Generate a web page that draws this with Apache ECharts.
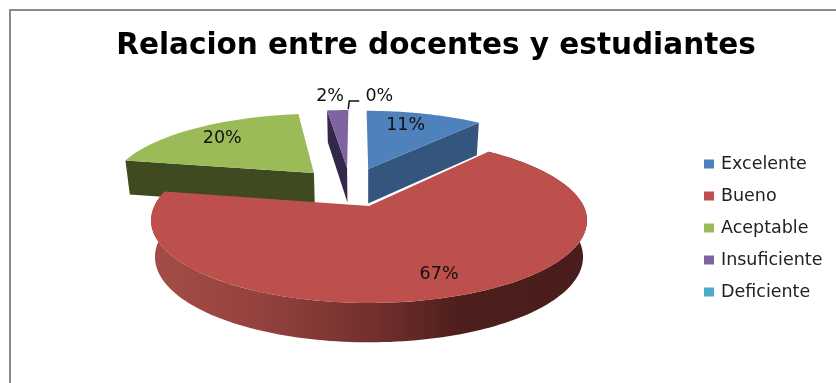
<!DOCTYPE html>
<html><head><meta charset="utf-8">
<script src="https://cdn.jsdelivr.net/npm/echarts@6/dist/echarts.min.js"></script>
<style>html,body{margin:0;padding:0;background:#fff}#c{width:836px;height:383px}</style>
</head><body><div id="c"></div>
<script>
const titleText = 'Relacion entre docentes y estudiantes';
const categories = ['Excelente', 'Bueno', 'Aceptable', 'Insuficiente', 'Deficiente'];
const values = [11, 67, 20, 2, 0];
const topColors = ['#4f81bd', '#bd4f4c', '#9bbb59', '#8064a2', '#4bacc6'];
const wallColors = ['#34557e', '#7a3330', '#404a20', '#33284a', '#2f7082'];
const paintOrder = [2, 3, 4, 0, 1];

// 3D projection of the pie plane (radius 1) with perspective
const PX = 369, PY = 206, AX = 214.6, BY = 80, K = 0.175, EXPLODE = 0.267, SHEAR = 1.6;
const total = values.reduce((a, b) => a + b, 0);
const starts = [];
values.reduce((acc, v, i) => { starts[i] = acc; return acc + v; }, 0);
const toAngle = v => v / total * 2 * Math.PI;
// offset of true pie centre relative to the plane origin (the Bueno apex)
const midOf = i => toAngle(starts[i] + values[i] / 2);
const C = { u: -Math.sin(midOf(1)) * EXPLODE, v: -Math.cos(midOf(1)) * EXPLODE };
function project(u, v, z) {
  const w = 1 + K * v;
  return [PX + AX * u / w * (1 - 0.018 * z) - SHEAR * Math.max(v, 0), PY - BY * v / w + z * 36 / (1 + 0.085 * v)];
}
function apex(i) {
  const m = midOf(i);
  return { u: C.u + Math.sin(m) * EXPLODE, v: C.v + Math.cos(m) * EXPLODE };
}
function rim(i, a, r) {
  const o = apex(i);
  return { u: o.u + Math.sin(a) * r, v: o.v + Math.cos(a) * r };
}
function P(p, z) { return project(p.u, p.v, z); }
function wall(i, a, color, z2) {
  const o = apex(i), e = rim(i, a, 1);
  return { type: 'polygon', z2, shape: { points: [P(o, 0), P(e, 0), P(e, 1), P(o, 1)] }, style: { fill: color } };
}
const labelR = [0.78, 0.78, 0.78, 1.34, 1.3];
const labelNudge = [[-8, 1], [5, 1], [2, 1], [-5, 2], [28, 1]];

function renderSlice(i) {
  return function (params, api) {
    const val = api.value(0);
    const a0 = toAngle(starts[i]), a1 = toAngle(starts[i] + val);
    const kids = [];
    const base = paintOrder.indexOf(i) * 10;
    if (val > 0) {
      if (i === 0) kids.push(wall(i, a1, wallColors[i], base));
      if (i === 2) kids.push(wall(i, a0, wallColors[i], base));
      if (i === 3) kids.push(wall(i, a0, wallColors[i], base));
      if (i === 1) {
        const top = [], bot = [];
        const n = 160;
        for (let k = 0; k <= n; k++) {
          const a = a0 + (a1 - a0) * k / n;
          const p = rim(i, a, 1);
          top.push(P(p, 0));
          bot.push(P(p, 1));
        }
        kids.push({
          type: 'polygon', z2: base,
          shape: { points: top.concat(bot.reverse()) },
          style: { fill: { type: 'linear', x: 0, y: 0, x2: 1, y2: 0, colorStops: [
            { offset: 0, color: '#a44d47' }, { offset: 0.25, color: '#94423e' },
            { offset: 0.5, color: '#74302e' }, { offset: 0.72, color: '#4c1e1c' },
            { offset: 1, color: '#4a1c1b' }] } }
        });
      }
      const pts = [P(apex(i), 0)];
      const n = Math.max(8, Math.round((a1 - a0) * 50));
      for (let k = 0; k <= n; k++) pts.push(P(rim(i, a0 + (a1 - a0) * k / n, 1), 0));
      kids.push({ type: 'polygon', z2: base + 1, shape: { points: pts }, style: { fill: topColors[i] } });
    }
    const mid = (a0 + a1) / 2;
    const lp = P(rim(i, mid, labelR[i]), 0);
    kids.push({
      type: 'text', z2: 100,
      x: lp[0] + labelNudge[i][0], y: lp[1] + labelNudge[i][1],
      style: { text: val + '%', fill: '#111', font: '17.5px "DejaVu Sans"', align: 'center', verticalAlign: 'middle' }
    });
    if (val === 0) {
      const q = P(rim(i, mid, 1), 0);
      kids.push({
        type: 'polyline', z2: 100,
        shape: { points: [[q[0] - 3, q[1] - 1], [q[0] - 2, q[1] - 9], [q[0] + 8, q[1] - 9]] },
        style: { fill: 'none', stroke: '#111', lineWidth: 1.5 }
      });
    }
    return { type: 'group', children: kids };
  };
}

const chart = echarts.init(document.getElementById('c'), null, { renderer: 'canvas' });
chart.setOption({
  animation: false,
  backgroundColor: '#fff',
  title: {
    text: titleText, left: 431, top: 26, textAlign: 'center',
    textStyle: { fontFamily: 'DejaVu Sans', fontWeight: 'bold', fontSize: 29.5, color: '#000' }
  },
  legend: {
    data: categories, orient: 'vertical', left: 699, top: 150, itemWidth: 10, itemHeight: 9, itemGap: 14,
    selectedMode: false, icon: 'rect',
    textStyle: { fontFamily: 'DejaVu Sans', fontSize: 17.5, color: '#222', lineHeight: 18, padding: [0, 0, 0, 2] }
  },
  graphic: [
    { type: 'line', shape: { x1: 9, y1: 10, x2: 836, y2: 10 }, style: { stroke: '#8a8a8a', lineWidth: 2 } },
    { type: 'line', shape: { x1: 10, y1: 9, x2: 10, y2: 383 }, style: { stroke: '#8a8a8a', lineWidth: 2 } }
  ],
  series: categories.map((name, i) => ({
    name, type: 'custom', coordinateSystem: 'none', clip: false,
    itemStyle: { color: topColors[i] },
    data: [[values[i]]],
    renderItem: renderSlice(i)
  }))
});
</script></body></html>
